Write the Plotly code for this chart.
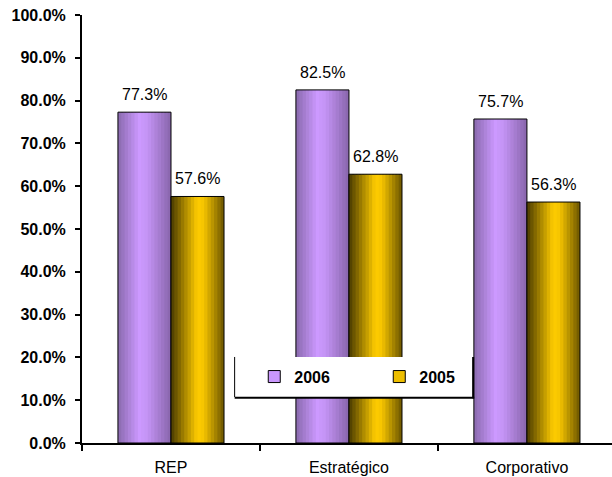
import plotly.graph_objects as go

categories = ["REP", "Estratégico", "Corporativo"]
series_names = ["2006", "2005"]
values_2006 = [0.773, 0.825, 0.757]
values_2005 = [0.576, 0.628, 0.563]
y_ticks = [0.0, 0.1, 0.2, 0.3, 0.4, 0.5, 0.6, 0.7, 0.8, 0.9, 1.0]

FONT = "Liberation Sans, Arial, sans-serif"
BAR_W = 0.298
N_STRIPS = 16
CAT_PX = 178


def hex2rgb(h):
    h = h.lstrip("#")
    return tuple(int(h[i:i + 2], 16) for i in (0, 2, 4))


def grad(stops, t):
    for (p0, c0), (p1, c1) in zip(stops, stops[1:]):
        if p0 <= t <= p1:
            f = (t - p0) / (p1 - p0) if p1 > p0 else 0
            a, b = hex2rgb(c0), hex2rgb(c1)
            return "rgb(%d,%d,%d)" % tuple(round(a[k] + (b[k] - a[k]) * f) for k in range(3))
    return stops[-1][1]


purple_stops = [(0, "#8a6aae"), (0.4, "#cc99ff"), (0.55, "#c494f5"), (1, "#8865ab")]
gold_stops = [(0, "#4a3b00"), (0.5, "#ffcc00"), (0.62, "#f5c400"), (1, "#6b5500")]

series = [
    ("2006", values_2006, purple_stops, -BAR_W),
    ("2005", values_2005, gold_stops, 0.0),
]

fig = go.Figure()
for name, vals, stops, base in series:
    dw = BAR_W / N_STRIPS
    for i in range(N_STRIPS):
        start = i * dw
        width = min(dw * 1.6, BAR_W - start)
        t = (i + 0.5) / N_STRIPS
        fig.add_trace(go.Bar(
            x=categories, y=vals, offset=base + start, width=width,
            marker=dict(color=grad(stops, t), line=dict(width=0)),
            showlegend=False, hoverinfo="skip",
        ))
    # outline
    fig.add_trace(go.Bar(
        x=categories, y=vals, offset=base, width=BAR_W,
        marker=dict(color="rgba(0,0,0,0)", line=dict(color="black", width=1)),
        showlegend=False, hoverinfo="skip",
    ))

# legend entries
for name, vals, stops, base in series:
    fig.add_trace(go.Bar(
        x=[None], y=[None], name=name,
        marker=dict(color=grad(stops, 0.45), line=dict(color="black", width=1)),
    ))

# data labels
for name, vals, stops, base in series:
    shift = (base + BAR_W / 2) * CAT_PX
    for c, v in zip(categories, vals):
        fig.add_annotation(
            x=c, y=v, text="%.1f%%" % (v * 100), showarrow=False,
            xshift=shift, yshift=7, yanchor="bottom",
            font=dict(family=FONT, size=16, color="black"),
        )

# legend box
fig.add_shape(type="rect", xref="paper", yref="paper", x0=0.288, x1=0.738, y0=0.1075, y1=0.201,
              fillcolor="white", line=dict(width=0), layer="above")
fig.add_shape(type="line", xref="paper", yref="paper", x0=0.288, x1=0.288, y0=0.1075, y1=0.201,
              line=dict(color="black", width=1), layer="above")
fig.add_shape(type="line", xref="paper", yref="paper", x0=0.738, x1=0.738, y0=0.1045, y1=0.201,
              line=dict(color="black", width=2), layer="above")
fig.add_shape(type="line", xref="paper", yref="paper", x0=0.288, x1=0.740, y0=0.1055, y1=0.1055,
              line=dict(color="black", width=2), layer="above")

fig.update_layout(
    width=612, height=477,
    margin=dict(l=82, r=0, t=15, b=34),
    paper_bgcolor="white", plot_bgcolor="white",
    barmode="overlay",
    font=dict(family=FONT, size=14, color="black"),
    showlegend=True,
    legend=dict(
        orientation="h", x=0.325, y=0.155, xanchor="left", yanchor="middle",
        bgcolor="rgba(0,0,0,0)", entrywidth=80, entrywidthmode="pixels",
        font=dict(family=FONT, size=16, color="black", weight="bold"),
        traceorder="normal",
    ),
    xaxis=dict(
        type="category", range=[-0.5, 2.478],
        showline=True, linecolor="black", linewidth=2,
        ticks="outside", ticklen=6, tickwidth=2, tickcolor="black",
        tickson="boundaries", showgrid=False, zeroline=False,
        tickfont=dict(family=FONT, size=16), ticklabelstandoff=9,
    ),
    yaxis=dict(
        range=[0, 1], tickvals=y_ticks, tickformat=".1%",
        showline=True, linecolor="black", linewidth=2,
        ticks="outside", ticklen=5, tickwidth=2, tickcolor="black",
        showgrid=False, zeroline=False, ticklabelstandoff=6,
        tickfont=dict(family=FONT, size=16, weight="bold"),
    ),
)

fig.write_html("out.html")
